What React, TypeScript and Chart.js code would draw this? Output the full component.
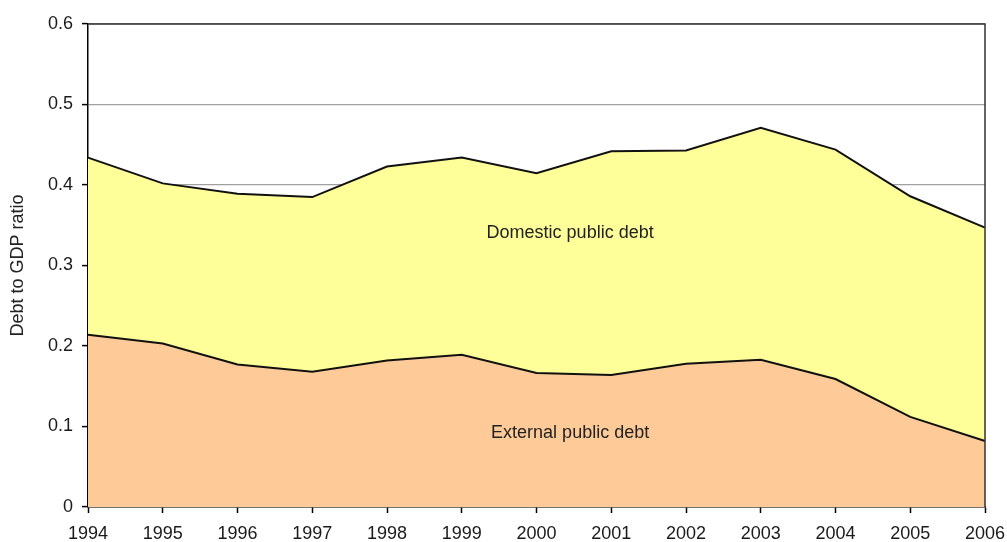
import React, { useEffect, useRef } from "react";
import { Chart, registerables } from "chart.js";

Chart.register(...registerables);

const years = ["1994", "1995", "1996", "1997", "1998", "1999", "2000", "2001", "2002", "2003", "2004", "2005", "2006"];
const externalDebt = [0.214, 0.203, 0.177, 0.168, 0.182, 0.189, 0.1665, 0.164, 0.178, 0.183, 0.159, 0.112, 0.082];
const domesticDebt = [0.22, 0.199, 0.212, 0.217, 0.241, 0.245, 0.248, 0.278, 0.265, 0.288, 0.285, 0.274, 0.265];
const yTicks = [0, 0.1, 0.2, 0.3, 0.4, 0.5, 0.6];
const annotations = [
  { text: "Domestic public debt", x: 6.45, y: 0.34 },
  { text: "External public debt", x: 6.45, y: 0.092 },
];

const FONT = "'Liberation Sans', Arial, sans-serif";

const labelPlugin = {
  id: "areaLabels",
  afterDatasetsDraw(chart: any) {
    const { ctx, chartArea, scales } = chart;
    ctx.save();
    ctx.strokeStyle = "#333";
    ctx.lineWidth = 1.5;
    ctx.beginPath();
    ctx.moveTo(chartArea.left, chartArea.top);
    ctx.lineTo(chartArea.right, chartArea.top);
    ctx.lineTo(chartArea.right, chartArea.bottom);
    ctx.stroke();
    ctx.fillStyle = "#222";
    ctx.font = `18px ${FONT}`;
    ctx.textAlign = "center";
    ctx.textBaseline = "middle";
    for (const a of annotations) {
      ctx.fillText(a.text, scales.x.getPixelForValue(a.x), scales.y.getPixelForValue(a.y));
    }
    ctx.restore();
  },
};

export default function App() {
  const ref = useRef<HTMLCanvasElement>(null);
  useEffect(() => {
    document.body.style.margin = "0";
    const chart = new Chart(ref.current!, {
      type: "line",
      data: {
        labels: years,
        datasets: [
          {
            label: "External public debt",
            data: externalDebt,
            borderColor: "#111",
            borderWidth: 2,
            backgroundColor: "#FECB98",
            fill: "origin",
            pointRadius: 0,
            tension: 0,
          },
          {
            label: "Domestic public debt",
            data: domesticDebt,
            borderColor: "#111",
            borderWidth: 2,
            backgroundColor: "#FFFF99",
            fill: "-1",
            pointRadius: 0,
            tension: 0,
          },
        ],
      },
      options: {
        animation: false,
        responsive: false,
        layout: { padding: { left: 7, top: 24, right: 22, bottom: 0 } },
        plugins: { legend: { display: false }, tooltip: { enabled: false } },
        scales: {
          x: {
            offset: false,
            grid: { drawOnChartArea: false, drawTicks: true, tickLength: 6, tickColor: "#000", tickWidth: 1.5 },
            border: { color: "#000", width: 1.5 },
            ticks: { color: "#1a1a1a", font: { size: 18, family: FONT }, padding: 10, maxRotation: 0, autoSkip: false },
            afterFit(scale: any) {
              scale.height = 35;
              scale.paddingRight = 0;
              scale.paddingLeft = 0;
            },
          },
          y: {
            stacked: true,
            min: 0,
            max: 0.6,
            afterBuildTicks(scale: any) { scale.ticks = yTicks.map((v) => ({ value: v })); },
            grid: { color: "#a0a0a0", lineWidth: 1.2, tickLength: 6, tickColor: "#000", tickWidth: 1.5 },
            border: { color: "#000", width: 1.5 },
            ticks: {
              color: "#1a1a1a",
              font: { size: 18, family: FONT },
              padding: 9,
              callback: (v: any) => String(Number(Number(v).toFixed(1))),
            },
            title: { display: true, text: "Debt to GDP ratio", color: "#222", font: { size: 18, family: FONT }, padding: 0 },
            afterFit(scale: any) {
              scale.width = 81;
              scale.paddingTop = 0;
              scale.paddingBottom = 0;
            },
          },
        },
      },
      plugins: [labelPlugin],
    });
    return () => chart.destroy();
  }, []);
  return (
    <div style={{ position: "absolute", left: 0, top: 0, width: 1007, height: 542 }}>
      <canvas ref={ref} width={1007} height={542} style={{ width: 1007, height: 542 }} />
    </div>
  );
}
